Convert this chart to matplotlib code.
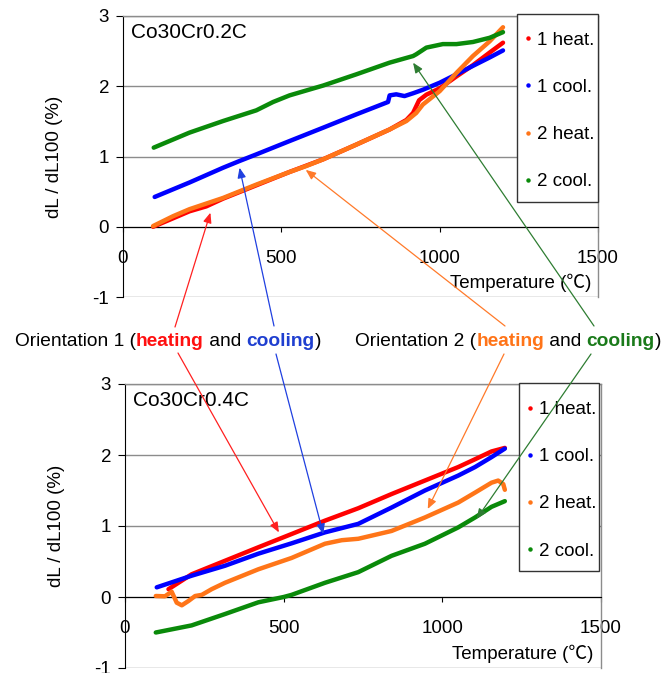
import matplotlib
matplotlib.use('Agg')
import matplotlib.pyplot as plt
from matplotlib.lines import Line2D
from matplotlib.patches import Rectangle, ConnectionPatch

plt.rcParams['font.family'] = ['Liberation Sans', 'Noto Sans CJK JP', 'DejaVu Sans']
plt.rcParams['axes.unicode_minus'] = False

# ---------------- data ----------------
series_labels = ['1 heat.', '1 cool.', '2 heat.', '2 cool.']
series_colors = ['#FF0000', '#0000FF', '#FF7518', '#0A8A0A']

# Co30Cr0.2C
a_h1_x = [95, 158, 210, 263, 316, 421, 526, 632, 737, 842, 895, 916, 935, 958, 1000, 1053, 1105, 1158, 1200]
a_h1_y = [0.0, 0.12, 0.22, 0.29, 0.40, 0.59, 0.78, 0.96, 1.17, 1.385, 1.52, 1.62, 1.80, 1.88, 1.97, 2.14, 2.30, 2.48, 2.62]
a_c1_x = [100, 210, 316, 368, 421, 526, 632, 737, 837, 842, 863, 889, 916, 947, 1000, 1053, 1105, 1158, 1200]
a_c1_y = [0.424, 0.63, 0.84, 0.936, 1.03, 1.22, 1.41, 1.60, 1.776, 1.87, 1.885, 1.86, 1.90, 1.95, 2.05, 2.17, 2.29, 2.41, 2.51]
a_h2_x = [95, 158, 210, 316, 421, 526, 579, 632, 737, 842, 895, 926, 947, 1000, 1053, 1105, 1158, 1200]
a_h2_y = [0.01, 0.15, 0.25, 0.41, 0.60, 0.78, 0.865, 0.96, 1.17, 1.385, 1.505, 1.62, 1.74, 1.93, 2.19, 2.43, 2.64, 2.84]
a_c2_x = [97, 210, 316, 421, 474, 526, 632, 737, 842, 916, 926, 958, 1010, 1053, 1105, 1158, 1200]
a_c2_y = [1.126, 1.34, 1.505, 1.657, 1.776, 1.87, 2.01, 2.17, 2.336, 2.43, 2.455, 2.55, 2.60, 2.60, 2.63, 2.69, 2.77]

# Co30Cr0.4C
b_h1_x = [137, 210, 315, 420, 525, 630, 735, 840, 945, 1050, 1103, 1155, 1197]
b_h1_y = [0.11, 0.32, 0.51, 0.70, 0.887, 1.075, 1.25, 1.45, 1.64, 1.83, 1.94, 2.05, 2.10]
b_c1_x = [100, 210, 315, 420, 525, 630, 735, 840, 945, 1050, 1103, 1155, 1197]
b_c1_y = [0.136, 0.30, 0.44, 0.61, 0.756, 0.91, 1.03, 1.26, 1.50, 1.71, 1.83, 1.97, 2.09]
b_h2_x = [97, 126, 147, 163, 179, 200, 221, 242, 273, 315, 420, 525, 630, 683, 735, 840, 945, 1050, 1103, 1155, 1176, 1192, 1197]
b_h2_y = [0.014, 0.01, 0.075, -0.08, -0.117, -0.056, 0.014, 0.03, 0.11, 0.20, 0.39, 0.55, 0.75, 0.80, 0.82, 0.93, 1.12, 1.33, 1.47, 1.61, 1.64, 1.59, 1.51]
b_c2_x = [97, 210, 315, 420, 500, 525, 630, 735, 840, 945, 1050, 1103, 1155, 1197]
b_c2_y = [-0.50, -0.40, -0.24, -0.075, 0.0, 0.03, 0.20, 0.35, 0.58, 0.75, 0.98, 1.12, 1.27, 1.35]

x_ticks = [0, 500, 1000, 1500]
y_ticks = [-1, 0, 1, 2, 3]
panel_titles = ['Co30Cr0.2C', 'Co30Cr0.4C']
x_label = 'Temperature (\u2103)'
y_label = 'dL / dL100 (%)'

FS = 13.5
W, H = 668, 673
fig = plt.figure(figsize=(W / 100, H / 100), dpi=100)

def fx(px):
    return px / W

def fy(py):
    return 1 - py / H

ax1 = fig.add_axes([fx(123), fy(297), (598 - 123) / W, (297 - 16) / H])
ax2 = fig.add_axes([fx(125), fy(668), (601 - 125) / W, (668 - 384) / H])

panels = [
    (ax1, [(a_h1_x, a_h1_y), (a_c1_x, a_c1_y), (a_h2_x, a_h2_y), (a_c2_x, a_c2_y)], panel_titles[0],
     (0.8295, 0.338, 0.1705, 0.669), (0.842, 0.662)),
    (ax2, [(b_h1_x, b_h1_y), (b_c1_x, b_c1_y), (b_h2_x, b_h2_y), (b_c2_x, b_c2_y)], panel_titles[1],
     (0.8277, 0.3415, 0.1683, 0.662), (0.840, 0.661)),
]

for ax, data, title, box, legpos in panels:
    for (xs, ys), c in zip(data, series_colors):
        ax.plot(xs, ys, color=c, lw=3.2, solid_capstyle='round', zorder=3)
    ax.set_xlim(0, 1500)
    ax.set_ylim(-1, 3)
    ax.set_xticks(x_ticks)
    ax.set_yticks(y_ticks)
    ax.yaxis.grid(True, color='#8c8c8c', lw=1.0)
    ax.set_axisbelow(True)
    ax.spines['bottom'].set_position(('data', 0))
    ax.spines['bottom'].set_color('black')
    ax.spines['left'].set_color('black')
    for s in ('top', 'right'):
        ax.spines[s].set_color('#8c8c8c')
        ax.spines[s].set_linewidth(1.0)
    ax.tick_params(axis='x', direction='out', length=3.5, pad=13, labelsize=FS)
    ax.tick_params(axis='y', direction='out', length=5, pad=5, labelsize=FS)
    ax.set_ylabel(y_label, fontsize=FS)
    ax.yaxis.set_label_coords(-0.126, 0.5)
    ax.text(0.985, 0.05, x_label, transform=ax.transAxes, ha='right', va='center', fontsize=FS)
    ax.text(0.016, 0.943, title, transform=ax.transAxes, ha='left', va='center', fontsize=15)
    # legend box
    ax.add_patch(Rectangle((box[0], box[1]), box[2], box[3], transform=ax.transAxes,
                           facecolor='white', edgecolor='#333333', lw=1.0, zorder=4, clip_on=False))
    handles = [Line2D([], [], ls='none', marker='o', ms=2.2, color=c) for c in series_colors]
    leg = ax.legend(handles, series_labels, loc='center left', bbox_to_anchor=legpos,
                    frameon=False, fontsize=FS, handlelength=0.5, handletextpad=0.25,
                    labelspacing=1.6, borderpad=0, borderaxespad=0)
    leg.set_zorder(5)

# ----- middle annotation text -----
renderer = fig.canvas.get_renderer()
FS_MID = 13.8

def colored_text(x0, y0, parts):
    x = x0
    for s, c, w in parts:
        t = fig.text(x, y0, s, color=c, fontsize=FS_MID, fontweight=w, ha='left', va='baseline')
        bb = t.get_window_extent(renderer=renderer)
        x = fig.transFigure.inverted().transform((bb.x1, bb.y0))[0]

colored_text(fx(15), fy(346), [('Orientation 1 (', 'black', 'normal'),
                                ('heating', '#FF1010', 'bold'),
                                (' and ', 'black', 'normal'),
                                ('cooling', '#1F3FD0', 'bold'),
                                (')', 'black', 'normal')])
colored_text(fx(355), fy(346), [('Orientation 2 (', 'black', 'normal'),
                                 ('heating', '#FF7418', 'bold'),
                                 (' and ', 'black', 'normal'),
                                 ('cooling', '#1A7A1A', 'bold'),
                                 (')', 'black', 'normal')])

# ----- arrows from text to curves -----
arrows = [
    ((175, 327), ax1, (276, 0.20), '#FF2020'),
    ((178, 353), ax2, (485, 0.91), '#FF2020'),
    ((274, 326), ax1, (368, 0.84), '#2040E0'),
    ((276, 354), ax2, (625, 0.887), '#2040E0'),
    ((505, 326), ax1, (577, 0.81), '#FF7A2A'),
    ((504, 354), ax2, (954, 1.24), '#FF7A2A'),
    ((594, 326), ax1, (916, 2.335), '#2E7D32'),
    ((591, 354), ax2, (1108, 1.10), '#2E7D32'),
]
for (tx, ty), ax, tip, c in arrows:
    cp = ConnectionPatch(xyA=(fx(tx), fy(ty)), coordsA=fig.transFigure,
                         xyB=tip, coordsB=ax.transData,
                         arrowstyle='-|>,head_length=0.6,head_width=0.25', mutation_scale=10,
                         shrinkA=0, shrinkB=0, color=c, lw=0.9, zorder=10)
    fig.add_artist(cp)

fig.savefig('out.png', dpi=100)
